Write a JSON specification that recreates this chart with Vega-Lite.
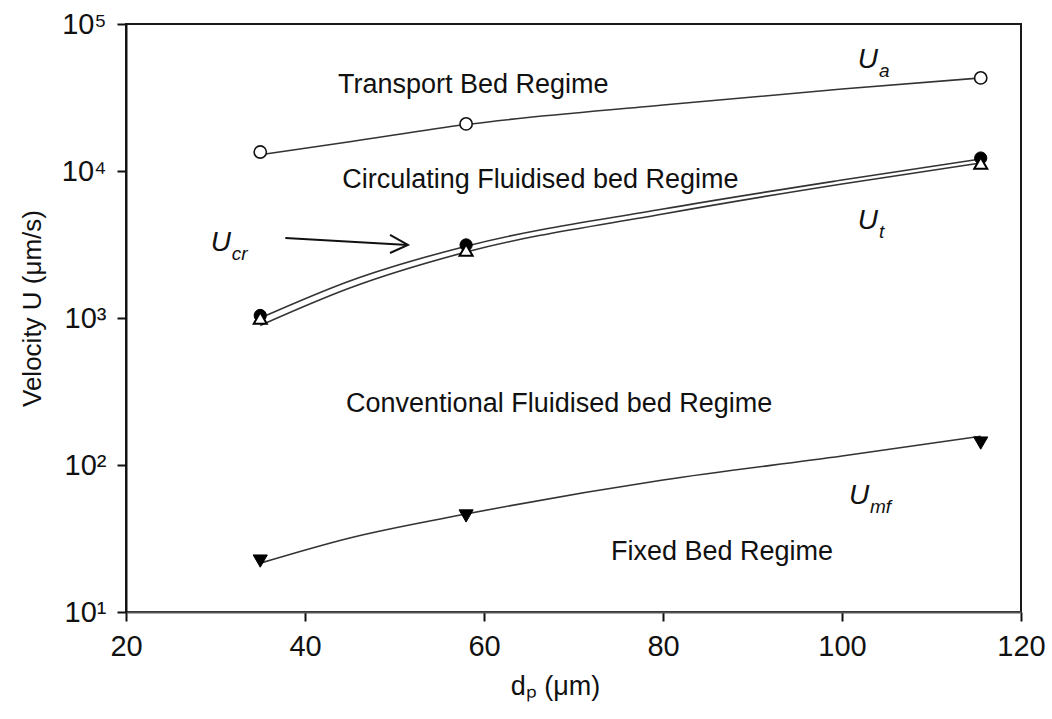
{
  "$schema": "https://vega.github.io/schema/vega-lite/v6.json",
  "width": 895,
  "height": 588,
  "autosize": "none",
  "padding": {"left": 126, "top": 24, "right": 31, "bottom": 107},
  "background": "white",
  "config": {
    "view": {"stroke": "#1a1a1a", "strokeWidth": 2},
    "font": "Liberation Sans",
    "text": {"font": "Liberation Sans", "color": "#111"}
  },
  "datasets": {
    "pts": [
      {"series": "Ua", "dp": 35, "U": 13460},
      {"series": "Ua", "dp": 58, "U": 20900},
      {"series": "Ua", "dp": 115.5, "U": 42960},
      {"series": "Ucr", "dp": 35, "U": 1040},
      {"series": "Ucr", "dp": 58, "U": 3140},
      {"series": "Ucr", "dp": 115.5, "U": 12250},
      {"series": "Ut", "dp": 35, "U": 1000},
      {"series": "Ut", "dp": 58, "U": 2900},
      {"series": "Ut", "dp": 115.5, "U": 11320},
      {"series": "Umf", "dp": 35, "U": 22.2},
      {"series": "Umf", "dp": 58, "U": 45},
      {"series": "Umf", "dp": 115.5, "U": 141}
    ],
    "curves": [
      {"series": "Ua", "dp": 35, "U": 12900},
      {"series": "Ua", "dp": 45, "U": 15800},
      {"series": "Ua", "dp": 58, "U": 20700},
      {"series": "Ua", "dp": 80, "U": 28100},
      {"series": "Ua", "dp": 100, "U": 36100},
      {"series": "Ua", "dp": 115.5, "U": 42960},
      {"series": "Ucr", "dp": 35, "U": 1000},
      {"series": "Ucr", "dp": 45, "U": 1786},
      {"series": "Ucr", "dp": 58, "U": 3080},
      {"series": "Ucr", "dp": 80, "U": 5510},
      {"series": "Ucr", "dp": 100, "U": 8680},
      {"series": "Ucr", "dp": 115.5, "U": 12070},
      {"series": "Ut", "dp": 35, "U": 890},
      {"series": "Ut", "dp": 45, "U": 1600},
      {"series": "Ut", "dp": 58, "U": 2810},
      {"series": "Ut", "dp": 80, "U": 5100},
      {"series": "Ut", "dp": 100, "U": 8160},
      {"series": "Ut", "dp": 115.5, "U": 11330},
      {"series": "Umf", "dp": 35, "U": 21.5},
      {"series": "Umf", "dp": 45, "U": 31.9},
      {"series": "Umf", "dp": 58, "U": 46.4},
      {"series": "Umf", "dp": 80, "U": 79},
      {"series": "Umf", "dp": 100, "U": 115},
      {"series": "Umf", "dp": 115.5, "U": 157}
    ],
    "regimes": [
      {"text": "Transport Bed Regime", "dp": 58.8, "U": 38460},
      {"text": "Circulating Fluidised bed Regime", "dp": 66.3, "U": 8690},
      {"text": "Conventional Fluidised bed Regime", "dp": 68.4, "U": 260},
      {"text": "Fixed Bed Regime", "dp": 86.6, "U": 25.6}
    ],
    "ulabels": [
      {"sub": "a", "dp": 102.9, "U": 56900},
      {"sub": "t", "dp": 102.9, "U": 4570},
      {"sub": "cr", "dp": 30.6, "U": 3236},
      {"sub": "mf", "dp": 101.9, "U": 61.5}
    ],
    "arrow": [
      {"part": "shaft", "o": 1, "dp": 37.8, "U": 3500},
      {"part": "shaft", "o": 2, "dp": 51.5, "U": 3140},
      {"part": "head", "o": 1, "dp": 49.5, "U": 3670},
      {"part": "head", "o": 2, "dp": 51.5, "U": 3140},
      {"part": "head", "o": 3, "dp": 49.5, "U": 2767}
    ]
  },
  "layer": [
    {
      "data": {"name": "curves"},
      "mark": {"type": "line", "interpolate": "monotone", "stroke": "#333", "strokeWidth": 1.6},
      "encoding": {
        "x": {
          "field": "dp", "type": "quantitative",
          "scale": {"domain": [20, 120], "nice": false, "zero": false},
          "axis": {
            "values": [20, 40, 60, 80, 100, 120],
            "labelFlush": false,
            "tickSize": 9, "tickWidth": 2, "tickColor": "#111",
            "labelFontSize": 29, "labelPadding": 11, "labelColor": "#111",
            "domainColor": "#555", "domainWidth": 2, "grid": false,
            "title": "dₚ (μm)", "titleFontSize": 27, "titleFontWeight": "normal",
            "titleColor": "#111", "titlePadding": 12, "titleX": 429
          }
        },
        "y": {
          "field": "U", "type": "quantitative",
          "scale": {"type": "log", "domain": [10, 100000], "nice": false},
          "axis": {
            "values": [10, 100, 1000, 10000, 100000],
            "labelFlush": false,
            "labelExpr": "'10' + ['⁰','¹','²','³','⁴','⁵'][round(log(datum.value)/LN10)]",
            "tickSize": 9, "tickWidth": 2, "tickColor": "#111",
            "labelFontSize": 29, "labelPadding": 11, "labelColor": "#111",
            "domainColor": "#111", "domainWidth": 2, "grid": false,
            "title": "Velocity U (μm/s)", "titleFontSize": 26, "titleFontWeight": "normal",
            "titleColor": "#111", "titlePadding": 16, "titleY": 284
          }
        },
        "detail": {"field": "series"}
      }
    },
    {
      "data": {"name": "pts"},
      "transform": [{"filter": "datum.series == 'Ua'"}],
      "mark": {"type": "point", "shape": "circle", "filled": false, "fill": "white", "stroke": "#111", "strokeWidth": 1.6, "size": 150, "opacity": 1},
      "encoding": {
        "x": {"field": "dp", "type": "quantitative"},
        "y": {"field": "U", "type": "quantitative"}
      }
    },
    {
      "data": {"name": "pts"},
      "transform": [{"filter": "datum.series == 'Ucr'"}],
      "mark": {"type": "point", "shape": "circle", "filled": true, "fill": "#000", "stroke": "#000", "strokeWidth": 1, "size": 150, "opacity": 1},
      "encoding": {
        "x": {"field": "dp", "type": "quantitative"},
        "y": {"field": "U", "type": "quantitative"}
      }
    },
    {
      "data": {"name": "pts"},
      "transform": [{"filter": "datum.series == 'Ut'"}],
      "mark": {"type": "point", "shape": "triangle-up", "filled": false, "fill": "white", "stroke": "#000", "strokeWidth": 2, "size": 170, "opacity": 1},
      "encoding": {
        "x": {"field": "dp", "type": "quantitative"},
        "y": {"field": "U", "type": "quantitative"}
      }
    },
    {
      "data": {"name": "pts"},
      "transform": [{"filter": "datum.series == 'Umf'"}],
      "mark": {"type": "point", "shape": "triangle-down", "filled": true, "fill": "#000", "stroke": "#000", "strokeWidth": 1, "size": 200, "opacity": 1},
      "encoding": {
        "x": {"field": "dp", "type": "quantitative"},
        "y": {"field": "U", "type": "quantitative"}
      }
    },
    {
      "data": {"name": "arrow"},
      "mark": {"type": "line", "stroke": "#111", "strokeWidth": 2},
      "encoding": {
        "x": {"field": "dp", "type": "quantitative"},
        "y": {"field": "U", "type": "quantitative"},
        "detail": {"field": "part"},
        "order": {"field": "o"}
      }
    },
    {
      "data": {"name": "regimes"},
      "mark": {"type": "text", "fontSize": 27, "align": "center", "baseline": "middle"},
      "encoding": {
        "x": {"field": "dp", "type": "quantitative"},
        "y": {"field": "U", "type": "quantitative"},
        "text": {"field": "text"}
      }
    },
    {
      "data": {"name": "ulabels"},
      "mark": {"type": "text", "fontSize": 28, "fontStyle": "italic", "align": "center", "baseline": "middle"},
      "encoding": {
        "x": {"field": "dp", "type": "quantitative"},
        "y": {"field": "U", "type": "quantitative"},
        "text": {"value": "U"}
      }
    },
    {
      "data": {"name": "ulabels"},
      "mark": {"type": "text", "fontSize": 19, "fontStyle": "italic", "align": "left", "baseline": "middle", "dx": 11, "dy": 11},
      "encoding": {
        "x": {"field": "dp", "type": "quantitative"},
        "y": {"field": "U", "type": "quantitative"},
        "text": {"field": "sub"}
      }
    }
  ]
}
